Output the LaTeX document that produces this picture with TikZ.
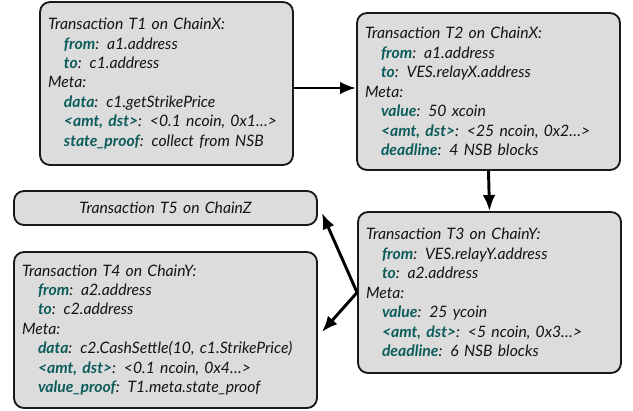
\documentclass[tikz,border=0pt]{standalone}
\usepackage{fontspec}
\setmainfont{Lato}
\usetikzlibrary{arrows.meta,calc}
\definecolor{keyc}{RGB}{12,92,92}
\definecolor{boxfill}{RGB}{220,220,220}
\definecolor{txt}{RGB}{20,20,20}
\newcommand{\kw}[1]{\textbf{\textcolor{keyc}{#1}}}
\newcommand{\ind}{\hspace*{12pt}}
\tikzset{
  tx/.style={draw=black!90, line width=1.4pt, fill=boxfill, rounded corners=7.5pt,
    text=txt, align=left, inner xsep=5pt,
    font=\fontsize{11.8}{14.6}\selectfont\itshape},
  arr/.style={line width=2.2pt, -{Latex[length=12pt,width=9.5pt]}}
}
\begin{document}
\begin{tikzpicture}[x=0.75pt,y=-0.75pt]
\useasboundingbox (0,0) rectangle (633,411);
\node[tx, minimum width=189.75pt, minimum height=122.25pt, text width=177.75pt] (T1) at (166.5,83.5) {%
Transaction T1 on ChainX:\\
\ind\kw{from}: a1.address\\
\ind\kw{to}: c1.address\\
Meta:\\
\ind\kw{data}: c1.getStrikePrice\\
\ind\kw{<amt, dst>}: <0.1 ncoin, 0x1…>\\
\ind\kw{state\_proof}: collect from NSB};
\node[tx, minimum width=197.25pt, minimum height=117.75pt, text width=185.25pt] (T2) at (488.5,91.5) {%
Transaction T2 on ChainX:\\
\ind\kw{from}: a1.address\\
\ind\kw{to}: VES.relayX.address\\
Meta:\\
\ind\kw{value}: 50 xcoin\\
\ind\kw{<amt, dst>}: <25 ncoin, 0x2…>\\
\ind\kw{deadline}: 4 NSB blocks};
\node[tx, minimum width=197.25pt, minimum height=120.75pt, text width=185.25pt] (T3) at (489.5,292.5) {%
Transaction T3 on ChainY:\\
\ind\kw{from}: VES.relayY.address\\
\ind\kw{to}: a2.address\\
Meta:\\
\ind\kw{value}: 25 ycoin\\
\ind\kw{<amt, dst>}: <5 ncoin, 0x3…>\\
\ind\kw{deadline}: 6 NSB blocks};
\node[tx, align=center, minimum width=227.25pt, minimum height=25.5pt, text width=215.25pt] (T5) at (165.5,208) {Transaction T5 on ChainZ};
\node[tx, minimum width=227.25pt, minimum height=117pt, text width=215.25pt] (T4) at (165.5,330) {%
Transaction T4 on ChainY:\\
\ind\kw{from}: a2.address\\
\ind\kw{to}: c2.address\\
Meta:\\
\ind\kw{data}: c2.CashSettle(10, c1.StrikePrice)\\
\ind\kw{<amt, dst>}: <0.1 ncoin, 0x4…>\\
\ind\kw{value\_proof}: T1.meta.state\_proof};
\draw[arr] (T1.east |- 0,88) -- (T2.west |- 0,88);
\draw[arr] (T2.south) -- (T3.north);
\draw[arr] (T3.west) -- ($(T5.east)+(4,5)$);
\draw[arr] (T3.west) -- ($(T4.east)+(4,2)$);
\end{tikzpicture}
\end{document}
